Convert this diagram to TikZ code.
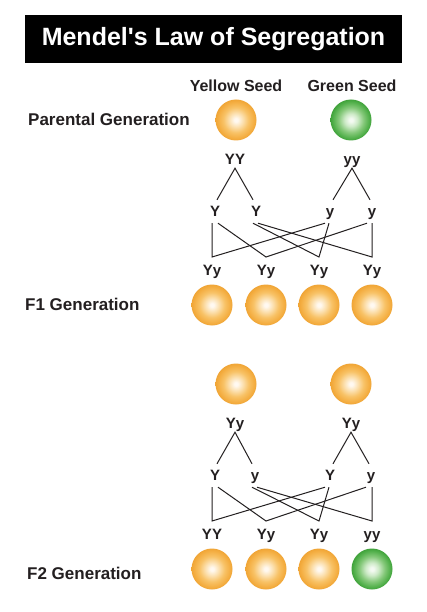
\documentclass[tikz,border=0pt]{standalone}
\usepackage{fontspec}
\setmainfont{Liberation Sans}
\newfontfamily\titlefont{Liberation Sans}[Ligatures=TeXOff]
\definecolor{ink}{HTML}{231F20}
\definecolor{yc0}{HTML}{FFF9F1}
\definecolor{yc1}{HTML}{FCE2B4}
\definecolor{yc2}{HTML}{F8C266}
\definecolor{yc3}{HTML}{F4AE42}
\definecolor{yc4}{HTML}{F0A536}
\definecolor{gc0}{HTML}{F4FAF2}
\definecolor{gc1}{HTML}{CDEAC7}
\definecolor{gc2}{HTML}{84C879}
\definecolor{gc3}{HTML}{52B04B}
\definecolor{gc4}{HTML}{40A23B}
\pgfdeclareradialshading{ybead}{\pgfpoint{0bp}{0bp}}{color(0bp)=(yc0); color(2bp)=(yc0); color(8bp)=(yc1); color(15.5bp)=(yc2); color(22bp)=(yc3); color(25bp)=(yc4); color(50bp)=(yc4)}
\pgfdeclareradialshading{gbead}{\pgfpoint{0bp}{0bp}}{color(0bp)=(gc0); color(2bp)=(gc0); color(8bp)=(gc1); color(15.5bp)=(gc2); color(22bp)=(gc3); color(25bp)=(gc4); color(50bp)=(gc4)}
\tikzset{
  bead/.style={circle, minimum size=41pt, inner sep=0pt, shade, shading=ybead},
  gbeadst/.style={circle, minimum size=41pt, inner sep=0pt, shade, shading=gbead},
  head/.style={font=\fontsize{16}{19}\selectfont\bfseries, text=ink, anchor=base, inner sep=0pt},
  genlab/.style={font=\fontsize{17}{20}\selectfont\bfseries, text=ink, anchor=base west, inner sep=0pt},
  lab/.style={font=\fontsize{15}{18}\selectfont\bfseries, text=ink, anchor=base, inner sep=0pt, text height=11pt, text depth=2pt},
  gam/.style={lab, minimum height=23pt},
  wire/.style={draw=ink, line width=1pt, line join=miter}
}
\begin{document}
\begin{tikzpicture}[x=1pt,y=-1pt]
\useasboundingbox (0,0) rectangle (427,612);
\fill[white] (0,0) rectangle (427,612);
% title
\node[fill=black, minimum width=377pt, minimum height=48pt, inner sep=0pt, text=white,
      font=\titlefont\fontsize{25}{30}\selectfont\bfseries] (title) at (213.5,39) {Mendel's Law of Segregation};
\node[head] (ys) at (236,91.7) {Yellow Seed};
\node[head] (gs) at (352,91.7) {Green Seed};
\node[genlab] (pg) at (28,126) {Parental Generation};
\node[genlab] (f1g) at (25,310) {F1 Generation};
\node[genlab] (f2g) at (27,579) {F2 Generation};

% block 1: parental -> F1
\begin{scope}[name prefix=a-]
\node[bead] (c1) at (236,120) {};
\node[gbeadst] (c2) at (351,120) {};
\node[lab] (p1) at (235,164.5) {YY};
\node[lab] (p2) at (352,164.5) {yy};
\node[gam] (g1) at (215,216) {Y};
\node[gam] (g2) at (256,216) {Y};
\node[gam] (g3) at (330,216) {y};
\node[gam] (g4) at (372,216) {y};
\node[lab] (o1) at (212,275) {Yy};
\node[lab] (o2) at (266,275) {Yy};
\node[lab] (o3) at (319,275) {Yy};
\node[lab] (o4) at (372,275) {Yy};
\node[bead] (d1) at (212,305) {};
\node[bead] (d2) at (266,305) {};
\node[bead] (d3) at (319,305) {};
\node[bead] (d4) at (372,305) {};
\coordinate (j1) at (212,257);
\coordinate (j2) at (266,257);
\coordinate (j3) at (319,257);
\coordinate (j4) at (372,257);
\draw[wire] ([xshift=2pt]g1.north) -- ([yshift=-1.5pt]p1.south) -- ([xshift=-3pt]g2.north);
\draw[wire] ([xshift=3pt]g3.north) -- ([yshift=-1.5pt]p2.south) -- ([xshift=-2pt]g4.north);
\draw[wire] (j1 |- g1.south) -- (j1) -- ([xshift=-5pt]g3.south);
\draw[wire] ([xshift=3pt]g1.south) -- (j2) -- ([xshift=-5pt]g4.south);
\draw[wire] ([xshift=-3pt]g2.south) -- (j3) -- ([xshift=-1pt]g3.south);
\draw[wire] ([xshift=2pt]g2.south) -- (j4) -- (j4 |- g4.south);
\end{scope}

% block 2: F1 x F1 -> F2
\begin{scope}[shift={(0,264)}, name prefix=b-]
\node[bead] (c1) at (236,120) {};
\node[bead] (c2) at (351,120) {};
\node[lab] (p1) at (235,164.5) {Yy};
\node[lab] (p2) at (351,164.5) {Yy};
\node[gam] (g1) at (215,216) {Y};
\node[gam] (g2) at (255,216) {y};
\node[gam] (g3) at (330,216) {Y};
\node[gam] (g4) at (371,216) {y};
\node[lab] (o1) at (212,275) {YY};
\node[lab] (o2) at (266,275) {Yy};
\node[lab] (o3) at (319,275) {Yy};
\node[lab] (o4) at (372,275) {yy};
\node[bead] (d1) at (212,305) {};
\node[bead] (d2) at (266,305) {};
\node[bead] (d3) at (319,305) {};
\node[gbeadst] (d4) at (372,305) {};
\coordinate (j1) at (212,257);
\coordinate (j2) at (266,257);
\coordinate (j3) at (319,257);
\coordinate (j4) at (372,257);
\draw[wire] ([xshift=2pt]g1.north) -- ([yshift=-1.5pt]p1.south) -- ([xshift=-3pt]g2.north);
\draw[wire] ([xshift=3pt]g3.north) -- ([yshift=-1.5pt]p2.south) -- ([xshift=-2pt]g4.north);
\draw[wire] (j1 |- g1.south) -- (j1) -- ([xshift=-5pt]g3.south);
\draw[wire] ([xshift=3pt]g1.south) -- (j2) -- ([xshift=-5pt]g4.south);
\draw[wire] ([xshift=-3pt]g2.south) -- (j3) -- ([xshift=-1pt]g3.south);
\draw[wire] ([xshift=2pt]g2.south) -- (j4) -- (j4 |- g4.south);
\end{scope}
\end{tikzpicture}
\end{document}
